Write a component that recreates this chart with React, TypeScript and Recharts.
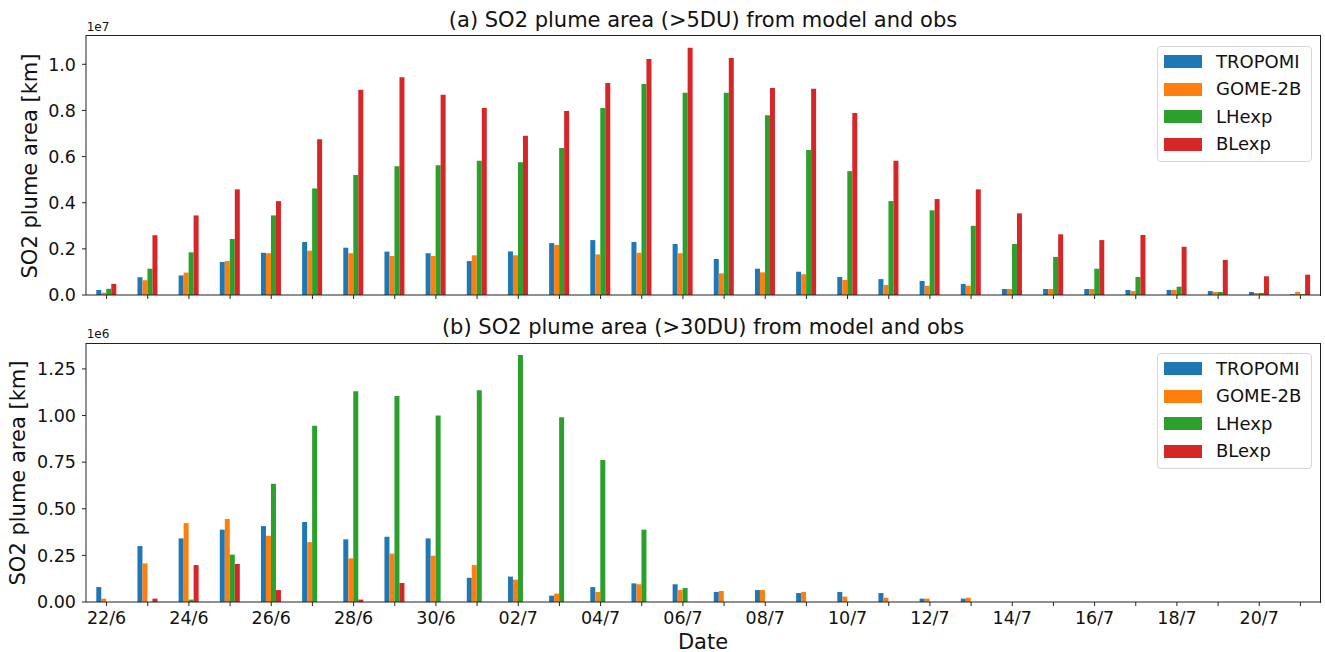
import React from 'react';
import { BarChart, Bar, XAxis, YAxis } from 'recharts';

// dates on the x axis, 22/6 .. 21/7
const DATES = [
  '22/6', '23/6', '24/6', '25/6', '26/6', '27/6', '28/6', '29/6', '30/6',
  '01/7', '02/7', '03/7', '04/7', '05/7', '06/7', '07/7', '08/7', '09/7', '10/7',
  '11/7', '12/7', '13/7', '14/7', '15/7', '16/7', '17/7', '18/7', '19/7', '20/7', '21/7'
];

const SERIES = ['TROPOMI', 'GOME-2B', 'LHexp', 'BLexp'];
const COLORS = ['#1f77b4', '#ff7f0e', '#2ca02c', '#d62728'];

// (a) plume area > 5 DU, in km (read in units of 1e6)
const tropomiA = [0.22, 0.77, 0.85, 1.43, 1.83, 2.30, 2.05, 1.88, 1.81, 1.47, 1.89, 2.25, 2.38, 2.30, 2.21, 1.56, 1.14, 1.01, 0.78, 0.69, 0.61, 0.48, 0.26, 0.26, 0.26, 0.22, 0.22, 0.17, 0.13, 0.04];
const gomeA = [0.10, 0.64, 0.97, 1.47, 1.81, 1.92, 1.81, 1.69, 1.69, 1.72, 1.72, 2.17, 1.76, 1.83, 1.81, 0.94, 0.98, 0.90, 0.65, 0.43, 0.40, 0.40, 0.26, 0.26, 0.26, 0.17, 0.22, 0.13, 0.09, 0.13];
const lhA = [0.27, 1.14, 1.85, 2.43, 3.45, 4.62, 5.20, 5.58, 5.62, 5.82, 5.75, 6.37, 8.11, 9.15, 8.77, 8.77, 7.79, 6.29, 5.37, 4.07, 3.67, 3.00, 2.21, 1.65, 1.14, 0.78, 0.36, 0.13, 0.09, 0.04];
const blA = [0.48, 2.59, 3.45, 4.58, 4.07, 6.75, 8.90, 9.44, 8.68, 8.11, 6.90, 7.98, 9.19, 10.23, 10.72, 10.27, 8.97, 8.94, 7.89, 5.82, 4.16, 4.58, 3.54, 2.63, 2.38, 2.60, 2.09, 1.52, 0.81, 0.88];

// (b) plume area > 30 DU, in km (read in units of 1e5)
const tropomiB = [0.80, 3.00, 3.41, 3.88, 4.07, 4.29, 3.36, 3.50, 3.41, 1.30, 1.36, 0.34, 0.80, 1.00, 0.95, 0.54, 0.64, 0.48, 0.54, 0.48, 0.18, 0.18, 0, 0, 0, 0, 0, 0, 0, 0];
const gomeB = [0.18, 2.07, 4.23, 4.45, 3.55, 3.21, 2.34, 2.59, 2.48, 1.98, 1.20, 0.45, 0.54, 0.95, 0.64, 0.59, 0.64, 0.54, 0.29, 0.23, 0.18, 0.23, 0, 0, 0, 0, 0, 0, 0, 0];
const lhB = [0, 0, 0.13, 2.54, 6.34, 9.45, 11.30, 11.05, 10.00, 11.36, 13.25, 9.91, 7.61, 3.88, 0.75, 0, 0, 0, 0, 0, 0, 0, 0, 0, 0, 0, 0, 0, 0, 0];
const blB = [0, 0.18, 1.98, 2.04, 0.64, 0, 0.13, 1.02, 0, 0, 0, 0, 0, 0, 0, 0, 0, 0, 0, 0, 0, 0, 0, 0, 0, 0, 0, 0, 0, 0];

const TICKS_A = [0, 2e6, 4e6, 6e6, 8e6, 1e7];
const TICKS_B = [0, 2.5e5, 5e5, 7.5e5, 1e6, 1.25e6];

const FONT = '"DejaVu Sans", sans-serif';
const INK = '#222';

const build = (cols: number[][], scale: number) =>
  DATES.map((d, i) => ({
    date: d,
    TROPOMI: cols[0][i] * scale,
    'GOME-2B': cols[1][i] * scale,
    LHexp: cols[2][i] * scale,
    BLexp: cols[3][i] * scale,
  }));

const dataA = build([tropomiA, gomeA, lhA, blA], 1e6);
const dataB = build([tropomiB, gomeB, lhB, blB], 1e5);

function Txt({ x, y, size = 21, rotate = 0, children }: any) {
  return (
    <div
      style={{
        position: 'absolute', left: x, top: y, fontFamily: FONT, fontSize: size,
        lineHeight: 1, whiteSpace: 'nowrap', color: '#111',
        transform: `translate(-50%, -50%) rotate(${rotate}deg)`,
      }}
    >
      {children}
    </div>
  );
}

function LegendBox({ top }: { top: number }) {
  return (
    <div
      style={{
        position: 'absolute', left: 1157, top, width: 153, height: 114,
        border: '1px solid #d6d6d6', borderRadius: 4, background: 'rgba(255,255,255,0.85)',
        fontFamily: FONT, fontSize: 18, color: '#111',
      }}
    >
      {SERIES.map((s, i) => (
        <div key={s} style={{ position: 'absolute', left: 6, top: 8 + i * 27.6, display: 'flex', alignItems: 'center', height: 13 }}>
          <div style={{ width: 38, height: 13, background: COLORS[i] }} />
          <span style={{ marginLeft: 14, lineHeight: 1 }}>{s}</span>
        </div>
      ))}
    </div>
  );
}

// top and right spines of the axes box
function Frame({ top, height }: { top: number; height: number }) {
  return (
    <div
      style={{
        position: 'absolute', left: 86, top, width: 1235, height,
        borderTop: `1px solid ${INK}`, borderRight: `1px solid ${INK}`,
        boxSizing: 'border-box', pointerEvents: 'none',
      }}
    />
  );
}

function Panel({ data, height, top, bottom, ticks, max, scale, digits, showLabels }: any) {
  const tickStyle = { fontFamily: FONT, fontSize: 17.5, fill: '#111' };
  return (
    <BarChart
      width={1325}
      height={height}
      data={data}
      margin={{ top, right: 4, bottom: 0, left: 0 }}
      barCategoryGap="25%"
      barGap={0}
    >
      <XAxis
        dataKey="date"
        interval={0}
        height={bottom}
        tickSize={4}
        tickMargin={showLabels ? 6 : 0}
        stroke={INK}
        tick={tickStyle}
        tickFormatter={(v: string, i: number) => (showLabels && i % 2 === 0 ? v : '')}
      />
      <YAxis
        width={86}
        domain={[0, max]}
        ticks={ticks}
        tickSize={4}
        tickMargin={6}
        stroke={INK}
        tick={tickStyle}
        tickFormatter={(v: number) => (v / scale).toFixed(digits)}
      />
      {SERIES.map((s, i) => (
        <Bar key={s} dataKey={s} fill={COLORS[i]} isAnimationActive={false} />
      ))}
    </BarChart>
  );
}

export default function App() {
  return (
    <div style={{ position: 'absolute', left: 0, top: 0, width: 1325, height: 652, background: '#fff' }}>
      <div style={{ position: 'absolute', left: 0, top: 0 }}>
        <Panel data={dataA} height={310} top={35} bottom={15} ticks={TICKS_A} max={1.127e7} scale={1e7} digits={1} showLabels={false} />
      </div>
      <div style={{ position: 'absolute', left: 0, top: 310 }}>
        <Panel data={dataB} height={342} top={33} bottom={50} ticks={TICKS_B} max={1.389e6} scale={1e6} digits={2} showLabels />
      </div>
      <Frame top={35} height={261} />
      <Frame top={343} height={260} />

      <Txt x={703} y={20}>(a) SO2 plume area (&gt;5DU) from model and obs</Txt>
      <Txt x={98} y={27} size={12}>1e7</Txt>
      <Txt x={30} y={166} rotate={-90}>SO2 plume area [km]</Txt>
      <LegendBox top={46} />

      <Txt x={703} y={327}>(b) SO2 plume area (&gt;30DU) from model and obs</Txt>
      <Txt x={98} y={334} size={12}>1e6</Txt>
      <Txt x={18} y={473} rotate={-90}>SO2 plume area [km]</Txt>
      <LegendBox top={353} />

      <Txt x={703} y={642}>Date</Txt>
    </div>
  );
}
